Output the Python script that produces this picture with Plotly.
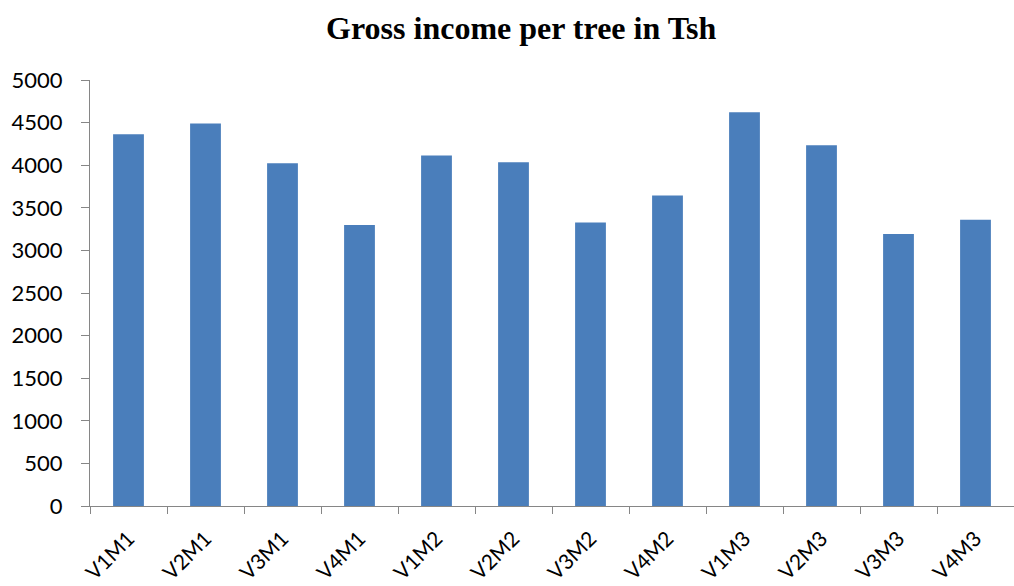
import plotly.graph_objects as go

categories = ["V1M1", "V2M1", "V3M1", "V4M1", "V1M2", "V2M2", "V3M2", "V4M2",
              "V1M3", "V2M3", "V3M3", "V4M3"]
income = [4364, 4488, 4024, 3298, 4114, 4036, 3326, 3645, 4622, 4235, 3193, 3361]
y_ticks = [0, 500, 1000, 1500, 2000, 2500, 3000, 3500, 4000, 4500, 5000]

fig = go.Figure(go.Bar(x=categories, y=income, marker=dict(color="#4a7ebb", line=dict(width=0))))

fig.update_layout(
    width=1014, height=586,
    margin=dict(l=90, r=0, t=80, b=80, autoexpand=False),
    paper_bgcolor="white", plot_bgcolor="white",
    bargap=0.6,
    showlegend=False,
    title=dict(text="<b>Gross income per tree in Tsh</b>", x=0.514, xanchor="center",
               y=0.952, yanchor="middle",
               font=dict(family="Liberation Serif", size=32, color="black")),
)
fig.update_yaxes(range=[0, 5000], tickvals=y_ticks, showgrid=False, showline=True,
                 linecolor="#868686", linewidth=1, ticks="outside", ticklen=8,
                 tickcolor="#868686", zeroline=False, ticklabelstandoff=14,
                 automargin=False,
                 tickfont=dict(family="Lato", size=22, color="black"))
fig.update_xaxes(showline=True, linecolor="#868686", linewidth=1, ticks="outside",
                 tickson="boundaries", ticklen=7, tickcolor="#868686", tickangle=-45,
                 ticklabelstandoff=11, automargin=False,
                 tickfont=dict(family="Lato", size=21, color="black"))

fig.write_html("out.html")
